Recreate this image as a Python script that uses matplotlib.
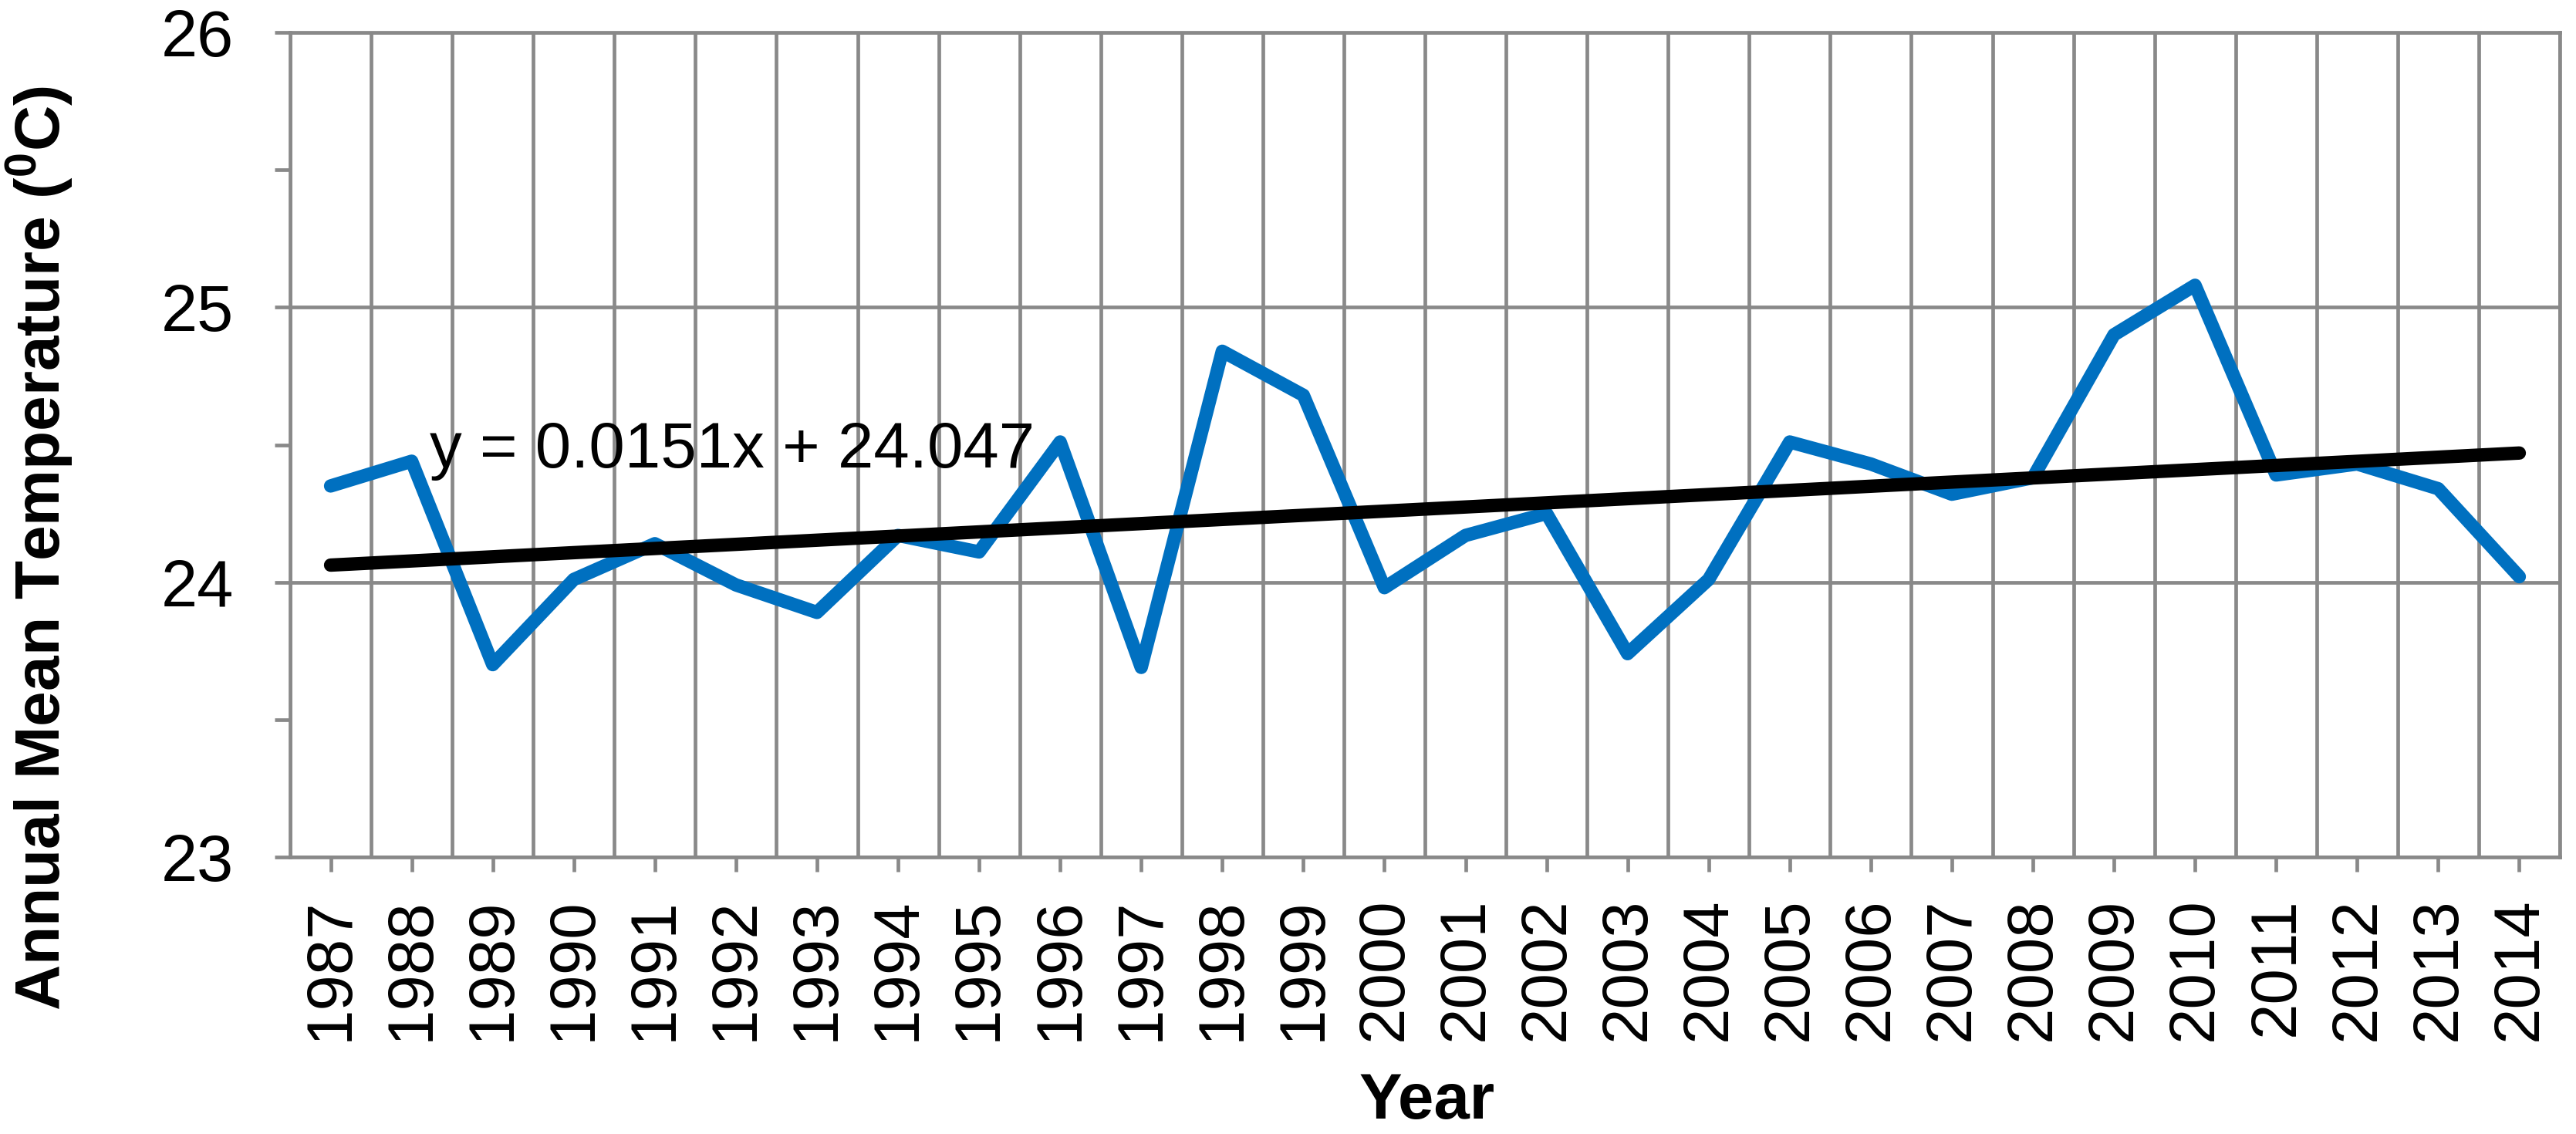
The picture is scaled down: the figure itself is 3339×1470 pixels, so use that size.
import matplotlib
matplotlib.use("Agg")
import matplotlib.pyplot as plt
import numpy as np
from matplotlib.ticker import FixedLocator

# ---- data ----
years = [str(y) for y in range(1987, 2015)]
temps = [24.35, 24.44, 23.70, 24.01, 24.14, 23.99, 23.89, 24.17, 24.11, 24.51,
         23.69, 24.84, 24.68, 23.98, 24.17, 24.25, 23.74, 24.01, 24.51, 24.43,
         24.32, 24.38, 24.90, 25.08, 24.39, 24.43, 24.34, 24.02]
trend_slope = 0.0151
trend_intercept = 24.047
y_ticks = [23, 24, 25, 26]
y_minor = [23.5, 24.5, 25.5]

plt.rcParams['font.family'] = ['Liberation Sans', 'DejaVu Sans']
plt.rcParams['mathtext.fontset'] = 'custom'
plt.rcParams['mathtext.rm'] = 'Liberation Sans'
plt.rcParams['mathtext.bf'] = 'Liberation Sans:bold'

W, H = 3339, 1470
fig = plt.figure(figsize=(W / 100, H / 100), dpi=100)
L, R, T, B = 376, 3318, 42, 1111
ax = fig.add_axes([L / W, 1 - B / H, (R - L) / W, (B - T) / H])

grid_c = '#898989'
gw = 3.4

x = np.arange(len(years))
ax.set_xlim(-0.5, len(years) - 0.5)
ax.set_ylim(23, 26)

# gridlines
ax.set_xticks(x)
ax.set_xticklabels(years, rotation=90, fontsize=60)
ax.xaxis.set_minor_locator(FixedLocator(np.arange(-0.5, len(years), 1.0)))
ax.set_yticks(y_ticks)
ax.set_yticklabels([str(v) for v in y_ticks], fontsize=61)
ax.yaxis.set_minor_locator(FixedLocator(y_minor))
ax.grid(False)
ax.xaxis.grid(True, which='minor', color=grid_c, linewidth=gw)
ax.yaxis.grid(True, which='major', color=grid_c, linewidth=gw)
ax.set_axisbelow(True)

ax.tick_params(axis='x', which='major', direction='out', length=13.7, width=gw,
               color=grid_c, pad=24, labelcolor='black')
ax.tick_params(axis='x', which='minor', length=0)
ax.tick_params(axis='y', which='both', direction='out', length=14.4, width=gw,
               color=grid_c, pad=38, labelcolor='black')

for s in ax.spines.values():
    s.set_color(grid_c)
    s.set_linewidth(gw)

# data line
ax.plot(x, temps, color='#0070C0', linewidth=12.5, solid_capstyle='round',
        solid_joinstyle='round', zorder=3)

# trend line
xi = x + 1
trend = trend_slope * xi + trend_intercept
ax.plot(x, trend, color='black', linewidth=12.5, solid_capstyle='round', zorder=4)

ax.text(1.223, 24.417, 'y = 0.0151x + 24.047', fontsize=60, ha='left',
        va='baseline', color='black', zorder=5)

fig.text(1850 / W, 1 - 1450 / H, 'Year', fontsize=60, fontweight='bold',
         ha='center', va='baseline')
fig.text(78 / W, 1 - 710 / H, r'Annual Mean Temperature ($\mathbf{^{0}}$C)',
         fontsize=59, fontweight='bold', rotation=90, rotation_mode='anchor',
         ha='center', va='baseline')

fig.savefig('out.png', dpi=100)
